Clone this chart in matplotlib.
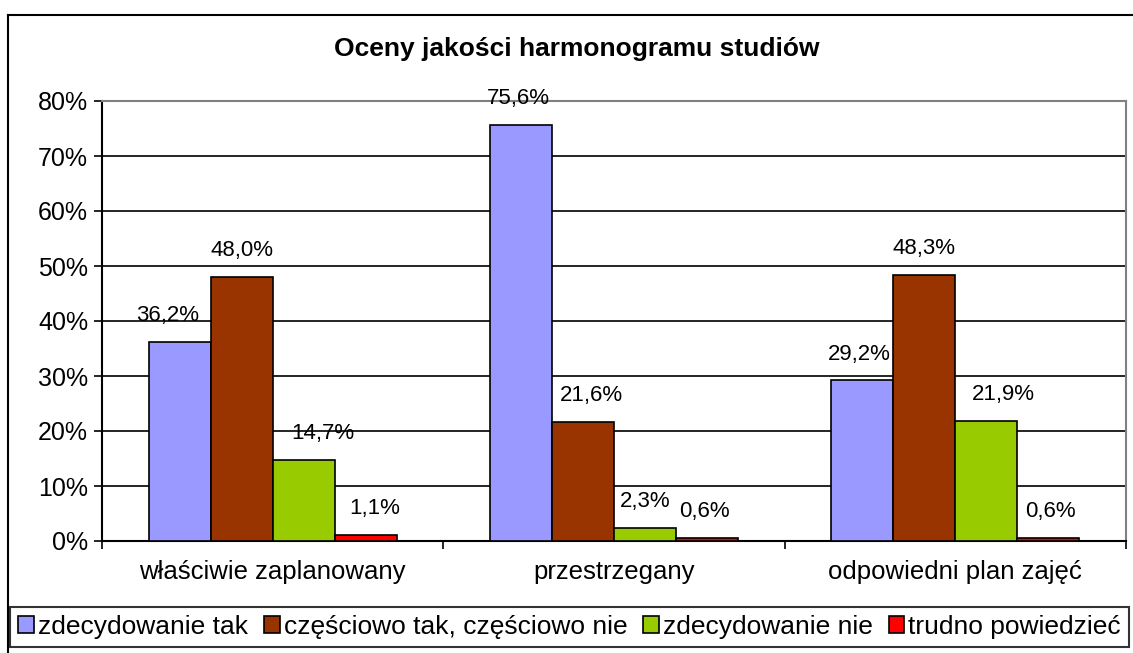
import matplotlib
matplotlib.use("Agg")
import matplotlib.pyplot as plt
import numpy as np
from matplotlib.patches import Rectangle
from matplotlib.lines import Line2D

plt.rcParams['font.family'] = ['Liberation Sans', 'DejaVu Sans']

title = "Oceny jakości harmonogramu studiów"
categories = ["właściwie zaplanowany", "przestrzegany", "odpowiedni plan zajęć"]
series_names = ["zdecydowanie tak", "częściowo tak, częściowo nie", "zdecydowanie nie", "trudno powiedzieć"]
zdecydowanie_tak = [36.2, 75.6, 29.2]
czesciowo = [48.0, 21.6, 48.3]
zdecydowanie_nie = [14.7, 2.3, 21.9]
trudno = [1.1, 0.6, 0.6]
yticks = [0, 10, 20, 30, 40, 50, 60, 70, 80]

series = [zdecydowanie_tak, czesciowo, zdecydowanie_nie, trudno]
colors = ["#9999FF", "#993300", "#99CC00", "#FF0000"]
# label horizontal nudges (pixels) per series/category, as in the reference
label_dx = [[-12, -3, -3], [0, 8, 0], [19, 0, 17], [9, -3, 2]]

W, H = 1133, 653
fig = plt.figure(figsize=(W / 100, H / 100), dpi=100)
ax = fig.add_axes([102 / W, 1 - 541 / H, (1126 - 102) / W, (541 - 101) / H])

n = len(series)
bw = 62 / 341.33
x = np.arange(len(categories))
for i, (vals, c) in enumerate(zip(series, colors)):
    pos = x + (i - (n - 1) / 2) * bw
    ax.bar(pos, vals, width=bw, color=c, edgecolor="black", linewidth=1.2, zorder=3)
    for j, (p, v) in enumerate(zip(pos, vals)):
        ax.annotate(f"{v:.1f}%".replace(".", ","), (p, v), xytext=(label_dx[i][j] * 0.72, 19),
                    textcoords="offset points", ha="center", va="center", fontsize=16, zorder=4)

ax.set_xlim(-0.5, len(categories) - 0.5)
ax.set_ylim(0, 80)
ax.set_yticks(yticks)
ax.set_yticklabels([f"{t}%" for t in yticks], fontsize=18)
ax.yaxis.grid(True, color="black", linewidth=1.2, zorder=0)
ax.set_axisbelow(True)
ax.set_xticks(np.arange(len(categories) + 1) - 0.5, minor=False)
ax.set_xticklabels([])
ax.set_xticks(x, minor=True)
ax.set_xticklabels(categories, minor=True, fontsize=18.5)
ax.tick_params(axis="x", which="minor", length=0, pad=14)
ax.tick_params(axis="x", which="major", length=6, width=1.2, direction="out")
ax.tick_params(axis="y", length=6, width=1.2, direction="out", pad=4)
for s in ["top", "right"]:
    ax.spines[s].set_color("#808080")
    ax.spines[s].set_linewidth(1.5)
for s in ["left", "bottom"]:
    ax.spines[s].set_color("black")
    ax.spines[s].set_linewidth(1.5)

fig.text(577 / W, 1 - 49 / H, title, ha="center", va="center", fontsize=19, fontweight="bold")

# outer chart border
fig.add_artist(Line2D([8 / W, 1.0], [1 - 15 / H, 1 - 15 / H], transform=fig.transFigure, color="black", linewidth=1.5))
fig.add_artist(Line2D([8 / W, 8 / W], [0, 1 - 15 / H], transform=fig.transFigure, color="black", linewidth=1.5))

handles = [Rectangle((0, 0), 1, 1, facecolor=c, edgecolor="black", linewidth=1.2) for c in colors]
leg = fig.legend(handles, series_names, loc="center", bbox_to_anchor=((8 + 1131) / 2 / W, 1 - 627 / H),
                 ncol=4, fontsize=19, frameon=True, fancybox=False, edgecolor="black",
                 handlelength=0.6, handleheight=0.6, handletextpad=0.15, columnspacing=0.6,
                 borderpad=0.3, borderaxespad=0)
leg.get_frame().set_linewidth(1.5)

fig.savefig("out.png", dpi=100)
